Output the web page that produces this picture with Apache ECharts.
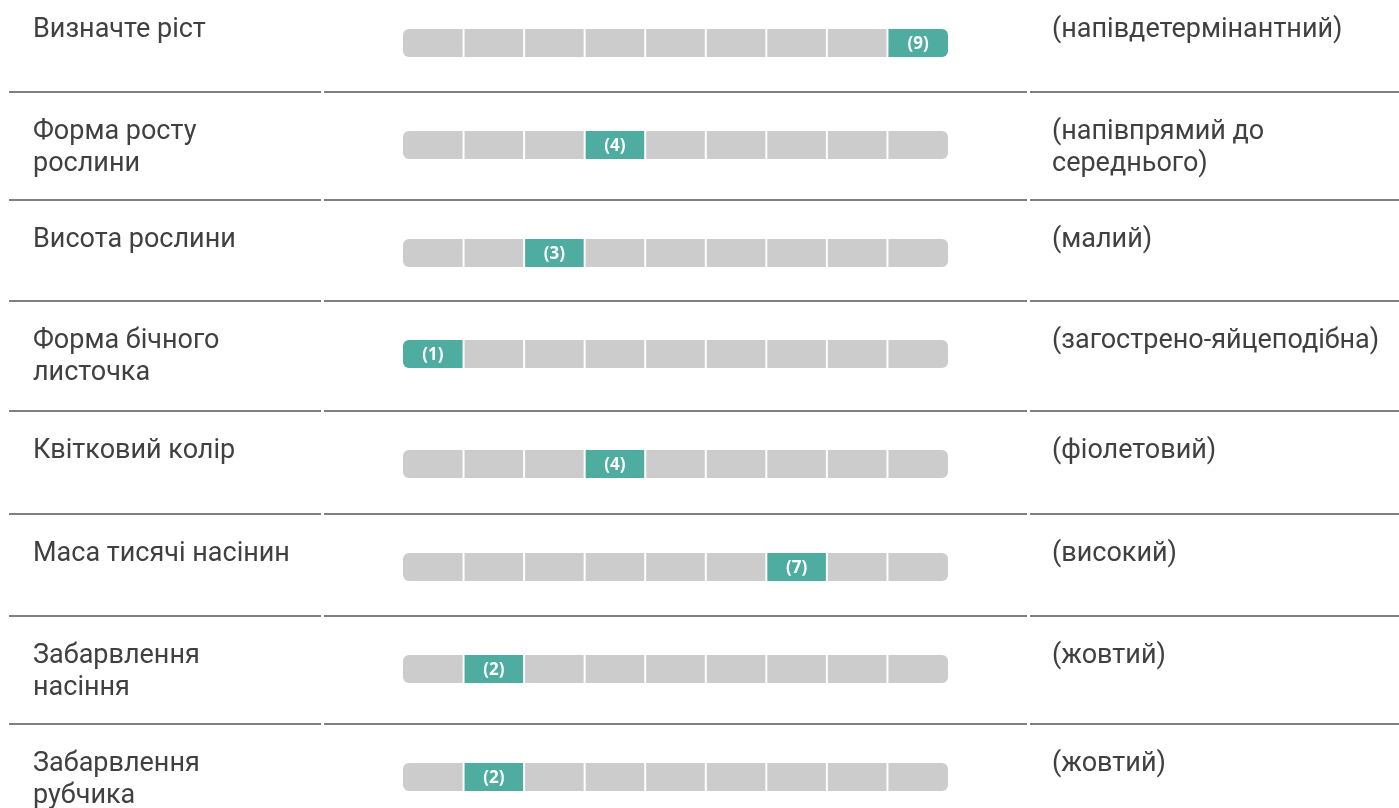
<!DOCTYPE html>
<html>
<head>
<meta charset="utf-8">
<script src="https://cdn.jsdelivr.net/npm/echarts@6/dist/echarts.min.js"></script>
<style>
html,body{margin:0;padding:0;background:#fff;}
#chart{width:1399px;height:808px;}
</style>
</head>
<body>
<div id="chart"></div>
<script>
// ---- data ----
var traits = [
  'Визначте ріст',
  'Форма росту\nрослини',
  'Висота рослини',
  'Форма бічного\nлисточка',
  'Квітковий колір',
  'Маса тисячі насінин',
  'Забарвлення\nнасіння',
  'Забарвлення\nрубчика'
];
var scores = [9, 4, 3, 1, 4, 7, 2, 2];
var descriptions = [
  '(напівдетермінантний)',
  '(напівпрямий до\nсереднього)',
  '(малий)',
  '(загострено-яйцеподібна)',
  '(фіолетовий)',
  '(високий)',
  '(жовтий)',
  '(жовтий)'
];
var scaleSteps = [1, 2, 3, 4, 5, 6, 7, 8, 9];

// ---- layout ----
var rowTops = [-10, 92, 200, 301, 411, 514, 616, 724];
var barLeft = 403, barWidth = 545, barHeight = 28;
var textColor = '#404040';
var teal = '#4eaca0', gray = '#cccccc';

var chart = echarts.init(document.getElementById('chart'), null, {renderer: 'canvas'});

var grids = [], xAxes = [], yAxes = [], series = [], graphics = [];

traits.forEach(function (t, r) {
  grids.push({left: barLeft, width: barWidth, top: rowTops[r] + 39, height: barHeight, containLabel: false});
  xAxes.push({type: 'value', gridIndex: r, min: 0, max: scaleSteps.length, show: false});
  yAxes.push({type: 'category', gridIndex: r, data: ['r'], show: false});
  var score = scores[r];
  series.push({
    type: 'custom',
    xAxisIndex: r,
    yAxisIndex: r,
    silent: true,
    data: scaleSteps.map(function (s, i) { return [i, 0, s]; }),
    encode: {x: 0, y: 1},
    renderItem: function (params, api) {
      var i = api.value(0);
      var step = api.value(2);
      var n = scaleSteps.length;
      var p0 = api.coord([i, 0]);
      var p1 = api.coord([i + 1, 0]);
      var h = api.size([0, 1])[1];
      var x0 = p0[0] + (i === 0 ? 0 : 1);
      var x1 = p1[0] - (i === n - 1 ? 0 : 1);
      var radius = i === 0 ? [6, 0, 0, 6] : (i === n - 1 ? [0, 6, 6, 0] : 0);
      var on = step === score;
      var children = [{
        type: 'rect',
        shape: {x: x0, y: p0[1] - h / 2, width: x1 - x0, height: h, r: radius},
        style: {fill: on ? teal : gray}
      }];
      if (on) {
        children.push({
          type: 'text',
          style: {
            text: '(' + step + ')',
            x: (x0 + x1) / 2, y: p0[1] + 1,
            align: 'center', verticalAlign: 'middle',
            fill: '#ffffff',
            font: 'bold 17px "Open Sans", sans-serif'
          }
        });
      }
      return {type: 'group', children: children};
    }
  });

  graphics.push({
    type: 'text', left: 33, top: rowTops[r] + 24,
    style: {text: t, fill: textColor, font: '27px Roboto, sans-serif', lineHeight: 32}
  });
  graphics.push({
    type: 'text', left: 1052, top: rowTops[r] + 24,
    style: {text: descriptions[r], fill: textColor, font: '27px Roboto, sans-serif', lineHeight: 32}
  });
  if (r > 0) {
    [[9, 321], [324, 1027], [1030, 1399]].forEach(function (seg) {
      graphics.push({
        type: 'line',
        shape: {x1: seg[0], y1: rowTops[r], x2: seg[1], y2: rowTops[r]},
        style: {stroke: '#808080', lineWidth: 2}
      });
    });
  }
});

chart.setOption({
  animation: false,
  grid: grids,
  xAxis: xAxes,
  yAxis: yAxes,
  series: series,
  graphic: graphics
});
</script>
</body>
</html>
